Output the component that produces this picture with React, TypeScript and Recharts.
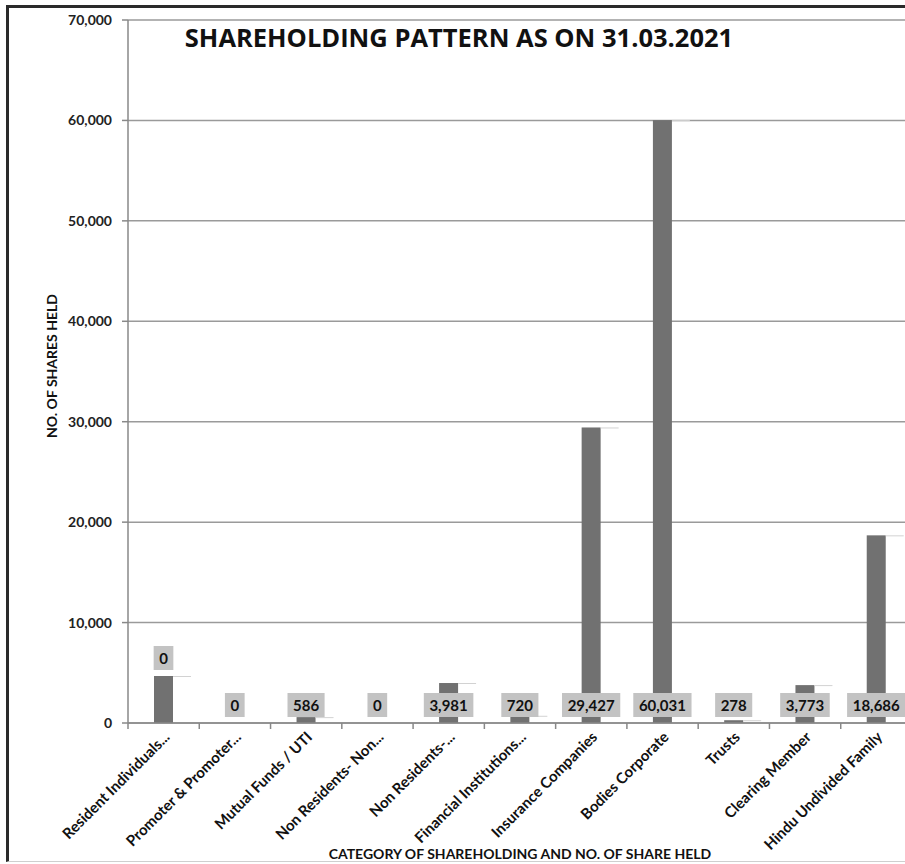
import React from "react";
import { BarChart, Bar, XAxis, YAxis, CartesianGrid, LabelList, Customized } from "recharts";

const categories = [
  "Resident Individuals...",
  "Promoter & Promoter...",
  "Mutual Funds / UTI",
  "Non Residents- Non...",
  "Non Residents-...",
  "Financial Institutions...",
  "Insurance Companies",
  "Bodies Corporate",
  "Trusts",
  "Clearing Member",
  "Hindu Undivided Family",
];
const shares = [4680, 0, 586, 0, 3981, 720, 29427, 60031, 278, 3773, 18686];
const labelTexts = ["0", "0", "586", "0", "3,981", "720", "29,427", "60,031", "278", "3,773", "18,686"];
const labelPlacement = ["top", "base", "base", "base", "base", "base", "base", "base", "base", "base", "base"];
const yTicks = [0, 10000, 20000, 30000, 40000, 50000, 60000, 70000];

const title = "SHAREHOLDING PATTERN AS ON 31.03.2021";
const yTitle = "NO. OF SHARES HELD";
const xTitle = "CATEGORY OF SHAREHOLDING AND NO. OF SHARE HELD";

const data = categories.map((c, i) => ({ name: c, value: shares[i], label: labelTexts[i] }));

const FONT = "Lato, 'Open Sans', sans-serif";
const TITLE_FONT = "'Open Sans', Lato, sans-serif";

const textWidth = (s: string, fs: number) => {
  let w = 0;
  for (const ch of s) w += ch === "," ? 0.25 * fs : 0.58 * fs;
  return w;
};

const BarShape = (props: any) => {
  const { x, y, width, height, fill } = props;
  if (!height || height <= 0) return null;
  return (
    <g>
      <rect x={x} y={y} width={width} height={height} fill={fill} />
      <line x1={x + width} y1={y + 0.5} x2={x + width + 18} y2={y + 0.5} stroke="#d2d2d2" strokeWidth={1} />
    </g>
  );
};

const DataLabel = (props: any) => {
  const { x, y, width, height, index } = props;
  const text = labelTexts[index];
  const fs = 15;
  const bw = textWidth(text, fs) + 11;
  const bh = 24;
  const cx = x + width / 2;
  const bottom = labelPlacement[index] === "top" ? y - 6 : y + height - 6;
  const top = bottom - bh;
  return (
    <g>
      <rect x={cx - bw / 2} y={top} width={bw} height={bh} fill="#c3c3c3" />
      <text
        x={cx}
        y={top + bh / 2}
        textAnchor="middle"
        dominantBaseline="central"
        fontFamily={FONT}
        fontWeight={700}
        fontSize={fs}
        fill="#111"
      >
        {text}
      </text>
    </g>
  );
};

const XTick = (props: any) => {
  const { x, y, payload } = props;
  const half = payload && payload.offset ? payload.offset : 0;
  return (
    <g>
      <line x1={x - half} y1={y - 6} x2={x - half} y2={y} stroke="#888" strokeWidth={1.5} />
      <text
        transform={`translate(${x + 7},${y + 9}) rotate(-45)`}
        textAnchor="end"
        fontFamily={FONT}
        fontWeight={700}
        fontSize={15}
        fill="#111"
      >
        {payload.value}
      </text>
    </g>
  );
};

const Titles = () => (
  <g>
    <text x={451} y={42} textAnchor="middle" fontFamily={TITLE_FONT} fontWeight={700} fontSize={25.5} fill="#111">
      {title}
    </text>
    <text
      transform="translate(43,361) rotate(-90)"
      textAnchor="middle"
      dominantBaseline="central"
      fontFamily={FONT}
      fontWeight={700}
      fontSize={14}
      fill="#111"
    >
      {yTitle}
    </text>
  </g>
);

export default function App() {
  return (
    <div style={{ position: "fixed", left: 5, top: 5, width: 900, height: 859, overflow: "hidden", background: "#fff" }}>
      <div
        style={{
          position: "absolute",
          left: 1,
          top: 0,
          width: 899,
          height: 857,
          borderLeft: "3px solid #2a2a2a",
          borderTop: "3px solid #2a2a2a",
          borderBottom: "1px solid #cfcfcf",
          boxSizing: "border-box",
          pointerEvents: "none",
          zIndex: 2,
        }}
      />
      <div style={{ position: "absolute", left: 3, top: 0 }}>
        <BarChart width={904} height={859} data={data} margin={{ top: 15, right: 0, left: 0, bottom: 0 }} barSize={19}>
          <CartesianGrid horizontal vertical={false} stroke="#9a9a9a" strokeWidth={1.5} />
          <XAxis
            dataKey="name"
            interval={0}
            height={141}
            tickLine={false}
            tickSize={6}
            tickMargin={0}
            axisLine={{ stroke: "#888", strokeWidth: 1.5 }}
            tick={<XTick />}
            label={{
              value: xTitle,
              position: "insideBottom",
              offset: 5,
              fontFamily: FONT,
              fontWeight: 700,
              fontSize: 14,
              fill: "#111",
            }}
          />
          <YAxis
            width={120}
            domain={[0, 70000]}
            ticks={yTicks}
            interval={0}
            tickSize={6}
            tickMargin={10}
            tickLine={{ stroke: "#888", strokeWidth: 1.5 }}
            axisLine={{ stroke: "#888", strokeWidth: 1.5 }}
            tickFormatter={(v: number) => v.toLocaleString("en-US")}
            tick={{ fontFamily: FONT, fontWeight: 700, fontSize: 14, fill: "#222" }}
          />
          <Bar dataKey="value" fill="#717171" isAnimationActive={false} shape={<BarShape />}>
            <LabelList dataKey="label" content={<DataLabel />} />
          </Bar>
          <Customized component={Titles} />
        </BarChart>
      </div>
    </div>
  );
}
